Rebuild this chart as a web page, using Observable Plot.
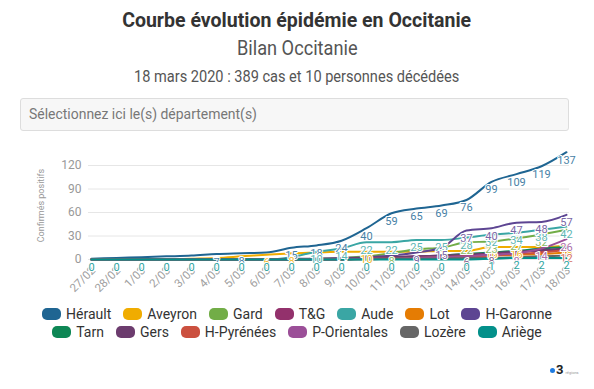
<!DOCTYPE html>
<html><head><meta charset="utf-8">
<script src="https://cdn.jsdelivr.net/npm/d3@7"></script>
<script src="https://cdn.jsdelivr.net/npm/@observablehq/plot@0.6"></script>
<style>
body{margin:0;width:594px;height:389px;background:#fff;font-family:Roboto,sans-serif;position:relative;overflow:hidden}
.c{position:absolute;left:0;width:594px;text-align:center;white-space:nowrap}
.c span{display:inline-block;transform:scaleX(0.91)}
#title{top:8px;font-weight:bold;font-size:21px;color:#333}
#title span{transform:scaleX(0.93)}
#sub{top:36px;font-size:20px;color:#555}
#info{top:67px;font-size:16px;color:#555}
#select{position:absolute;left:20px;top:98px;width:539px;height:31px;border:1px solid #ddd;border-radius:3px;background:#f7f7f7;font-size:15px;color:#777;line-height:31px;padding-left:8px;box-sizing:content-box;white-space:nowrap}
#select span{display:inline-block;transform:scaleX(0.93);transform-origin:left center}
#chart{position:absolute;left:0;top:140px}
.row{position:absolute;left:0;width:594px;display:flex;justify-content:center;font-size:14px;color:#333;line-height:16px}
.it{display:flex;align-items:center;margin:0 6px}
.it i{display:inline-block;width:19px;height:12px;border-radius:5px;margin-right:5px}
#logo{position:absolute;left:550px;top:362px;font-size:13px;font-weight:bold;color:#222}
#logo b{display:inline-block;width:5px;height:5px;border-radius:50%;background:#1e7be0;margin-right:1px;vertical-align:middle}
#logo span{font-size:4px;color:#999;font-weight:normal;margin-left:2px}
</style></head><body>
<div id="title" class="c"><span>Courbe évolution épidémie en Occitanie</span></div>
<div id="sub" class="c"><span>Bilan Occitanie</span></div>
<div id="info" class="c"><span>18 mars 2020 : 389 cas et 10 personnes décédées</span></div>
<div id="select"><span>Sélectionnez ici le(s) département(s)</span></div>
<div id="chart"></div>
<div id="leg1" class="row" style="top:306px"></div>
<div id="leg2" class="row" style="top:324px"></div>
<div id="logo"><b></b>3<span>régions</span></div>
<script>
const dates = ["27/02","28/02","1/03","2/03","3/03","4/03","5/03","6/03","7/03","8/03","9/03","10/03","11/03","12/03","13/03","14/03","15/03","16/03","17/03","18/03"];
const depts = ["Hérault","Aveyron","Gard","T&G","Aude","Lot","H-Garonne","Tarn","Gers","H-Pyrénées","P-Orientales","Lozère","Ariège"];
const colors = ["#1f6592","#f0ac00","#72ad47","#93316c","#3aa6a4","#e57c03","#5d4592","#0e8755","#6c3c6e","#cb503f","#9b4f98","#666666","#03908a"];
const yTicks = [0,30,60,90,120];
const herault    = [1,2,3,4,5,7,8,9,15,18,24,40,59,65,69,76,99,109,119,137];
const aveyron    = [0,0,0,0,1,2,4,6,8,9,10,10,10,10,11,11,16,16,16,18];
const gard       = [0,0,0,0,0,0,0,0,0,1,2,4,8,13,15,22,23,27,32,38];
const tg         = [0,0,0,0,0,0,0,0,0,1,1,2,3,4,5,7,8,10,11,13];
const aude       = [0,0,0,0,0,0,0,0,3,10,14,22,22,25,25,28,32,34,38,42];
const lot        = [0,0,0,0,0,0,0,0,0,0,1,1,2,2,3,4,5,6,7,9];
const hgaronne   = [0,0,0,0,0,0,0,0,1,1,2,3,5,9,15,37,40,47,48,57];
const tarn       = [0,0,0,0,0,0,0,0,0,0,0,1,2,3,5,7,9,11,14,16];
const gers       = [0,0,0,0,0,0,0,0,0,0,1,2,3,4,5,6,8,10,12,14];
const hpyrenees  = [0,0,0,0,0,0,0,0,0,0,0,1,1,2,3,4,5,7,9,12];
const porientales= [0,0,0,0,0,0,0,0,0,0,0,1,1,2,3,4,6,8,14,26];
const lozere     = [0,0,0,0,0,0,0,0,0,0,0,0,1,1,1,2,2,3,4,5];
const ariege     = [0,0,0,0,0,0,0,0,0,0,0,0,0,0,0,0,1,2,2,2];
const series = [herault,aveyron,gard,tg,aude,lot,hgaronne,tarn,gers,hpyrenees,porientales,lozere,ariege];

const rows = [];
depts.forEach((d,i)=>series[i].forEach((v,j)=>rows.push({dept:d, rank:i, date:dates[j], value:v})));
const colorOf = Object.fromEntries(depts.map((d,i)=>[d,colors[i]]));
const labelColor = d => d3.interpolateRgb(colorOf[d.dept], "#ffffff")(0.18);

// hide data labels that would collide (later series win, like stacked labels)
const labelRows = [];
dates.forEach(dt => {
  const kept = [];
  rows.filter(r => r.date === dt).sort((a,b) => b.rank - a.rank).forEach(r => {
    if (kept.every(k => Math.abs(k.value - r.value) >= 6)) kept.push(r);
  });
  kept.sort((a,b) => a.rank - b.rank).forEach(r => labelRows.push(r));
});

const chart = Plot.plot({
  width: 594, height: 150,
  marginLeft: 88, marginRight: 25, marginTop: 25, marginBottom: 31,
  style: {fontFamily: "Roboto, sans-serif", background: "transparent", overflow: "visible", color: "#999"},
  x: {type: "point", domain: dates, padding: 0},
  y: {domain: [0, 120]},
  color: {domain: depts, range: colors},
  marks: [
    Plot.gridY(yTicks, {stroke: "#e6e6e6", strokeOpacity: 1}),
    Plot.axisY(yTicks, {tickSize: 0, tickPadding: 7, fontSize: 12, label: null, fill: "#999"}),
    Plot.axisX({tickRotate: -45, tickSize: 0, tickPadding: 9, fontSize: 11.5, label: null, fill: "#a0a0a0", dx: 2}),
    Plot.text(["Confirmés positifs"], {frameAnchor: "left", textAnchor: "middle", dx: -47, dy: -7, rotate: -90, fontSize: 9, fill: "#999"}),
    Plot.line(rows, {x: "date", y: "value", z: "dept", stroke: "dept", strokeWidth: 2, curve: "monotone-x"}),
    Plot.text(labelRows, {x: "date", y: "value", text: d => String(d.value), fill: labelColor, dy: 8, stroke: "white", strokeWidth: 2, fontSize: 11})
  ]
});
document.getElementById("chart").appendChild(chart);

const leg = (el, names) => {
  const box = document.getElementById(el);
  names.forEach(n => {
    const s = document.createElement("span"); s.className = "it";
    const i = document.createElement("i"); i.style.background = colorOf[n];
    s.appendChild(i); s.appendChild(document.createTextNode(n)); box.appendChild(s);
  });
};
leg("leg1", depts.slice(0,7));
leg("leg2", depts.slice(7));
</script>
</body></html>
